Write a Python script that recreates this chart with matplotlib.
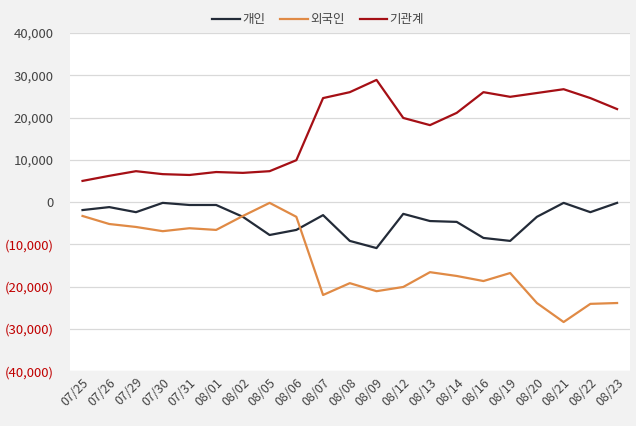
#!/usr/bin/env python3
import numpy as np
import matplotlib
matplotlib.use('Agg')
import matplotlib.pyplot as plt
from matplotlib.ticker import FuncFormatter

# trading days
dates = ['07/25', '07/26', '07/29', '07/30', '07/31', '08/01', '08/02', '08/05',
         '08/06', '08/07', '08/08', '08/09', '08/12', '08/13', '08/14', '08/16',
         '08/19', '08/20', '08/21', '08/22', '08/23']

# net buying per investor type
individual = [-1900, -1200, -2400, -200, -700, -700, -3500, -7800, -6600, -3100,
              -9200, -10900, -2800, -4500, -4700, -8500, -9200, -3500, -200, -2400, -200]
foreign = [-3300, -5200, -5900, -6900, -6200, -6600, -3300, -200, -3500, -22000,
           -19200, -21100, -20100, -16600, -17500, -18700, -16800, -23900, -28400, -24100, -23900]
institution = [5000, 6200, 7300, 6600, 6400, 7100, 6900, 7300, 9900, 24600,
               26000, 28900, 19900, 18200, 21100, 26000, 24900, 25800, 26700, 24600, 22000]

series_names = ['개인', '외국인', '기관계']
series_colors = ['#232b38', '#e08a45', '#a50f15']


def fmt_val(v, pos):
    if v < 0:
        return '({:,.0f})'.format(-v)
    return '{:,.0f}'.format(v)


def main():
    plt.rcParams['font.family'] = ['Noto Sans CJK KR', 'DejaVu Sans']
    fig = plt.figure(figsize=(6.36, 4.26), dpi=100, facecolor='#f2f2f2')
    ax = fig.add_axes([0.110, 0.129, 0.880, 0.7935])
    ax.set_facecolor('white')

    x = np.arange(len(dates))
    for vals, name, color in zip([individual, foreign, institution], series_names, series_colors):
        ax.plot(x, vals, color=color, lw=1.6, label=name)

    ax.set_xlim(-0.47, len(dates) - 1 + 0.47)
    ax.set_ylim(-40000, 40000)
    ax.set_yticks(np.arange(-40000, 40001, 10000))
    ax.yaxis.set_major_formatter(FuncFormatter(fmt_val))
    ax.set_xticks(x)
    ax.set_xticklabels(dates, rotation=45, ha='right', rotation_mode='anchor',
                       fontsize=9, color='#444444')
    ax.grid(axis='y', color='#d9d9d9', lw=0.9)
    ax.set_axisbelow(True)
    for s in ax.spines.values():
        s.set_visible(False)
    ax.tick_params(length=0)
    ax.tick_params(axis='y', labelsize=9.5, pad=12)
    for lbl, v in zip(ax.get_yticklabels(), ax.get_yticks()):
        lbl.set_color('#c00000' if v < 0 else '#444444')

    fig.legend(loc='upper center', bbox_to_anchor=(0.5, 0.995), ncol=3, frameon=False,
               fontsize=9, handlelength=2.2, handletextpad=0.2, columnspacing=1.2,
               labelcolor='#444444')

    fig.savefig('out.png', dpi=100, facecolor=fig.get_facecolor())


if __name__ == "__main__":
    main()
